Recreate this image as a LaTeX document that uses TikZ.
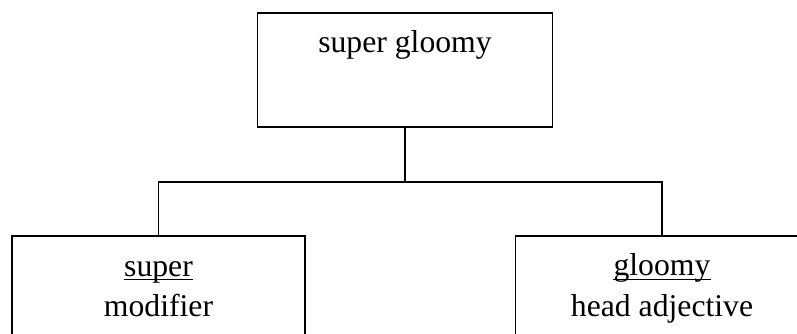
\documentclass[tikz,border=0pt]{standalone}
\usepackage{fontspec}
\setmainfont{Liberation Serif}
\usetikzlibrary{positioning}

\begin{document}
\begin{tikzpicture}[x=1pt,y=-1pt,
    box/.style={draw,line width=1.6pt,minimum width=293pt,minimum height=114pt,inner sep=0pt},
    word/.style={anchor=base,inner sep=0pt,font=\fontsize{31.7}{38}\selectfont},
    link/.style={line width=1.6pt}]
  \clip (0,0) rectangle (797,333);
  % the phrase and its two parts
  \node[box,minimum width=295pt] (phrase) at (405,70) {};
  \node[box] (modbox) at (158.5,293) {};
  \node[box] (headbox) at (662,293) {};
  \node[word] (phraseword) at ([yshift=-40pt]phrase.north) {super gloomy};
  \node[word] (superword) at ([yshift=-41pt]modbox.north) {super};
  \node[word] (modword) at ([yshift=-81pt]modbox.north) {modifier};
  \node[word] (gloomyword) at ([yshift=-40pt]headbox.north) {gloomy};
  \node[word] (headword) at ([yshift=-81pt]headbox.north) {head adjective};
  \draw[line width=1.3pt] ([yshift=-3pt]superword.base west) -- ([yshift=-3pt]superword.base east);
  \draw[line width=1.3pt] ([yshift=-4pt]gloomyword.base west) -- ([yshift=-4pt]gloomyword.base east);
  % branches
  \coordinate (fork) at ([yshift=-54pt]phrase.south);
  \draw[link] (phrase.south) -- (fork);
  \draw[link] (modbox.north) |- (fork) -| (headbox.north);
\end{tikzpicture}
\end{document}
